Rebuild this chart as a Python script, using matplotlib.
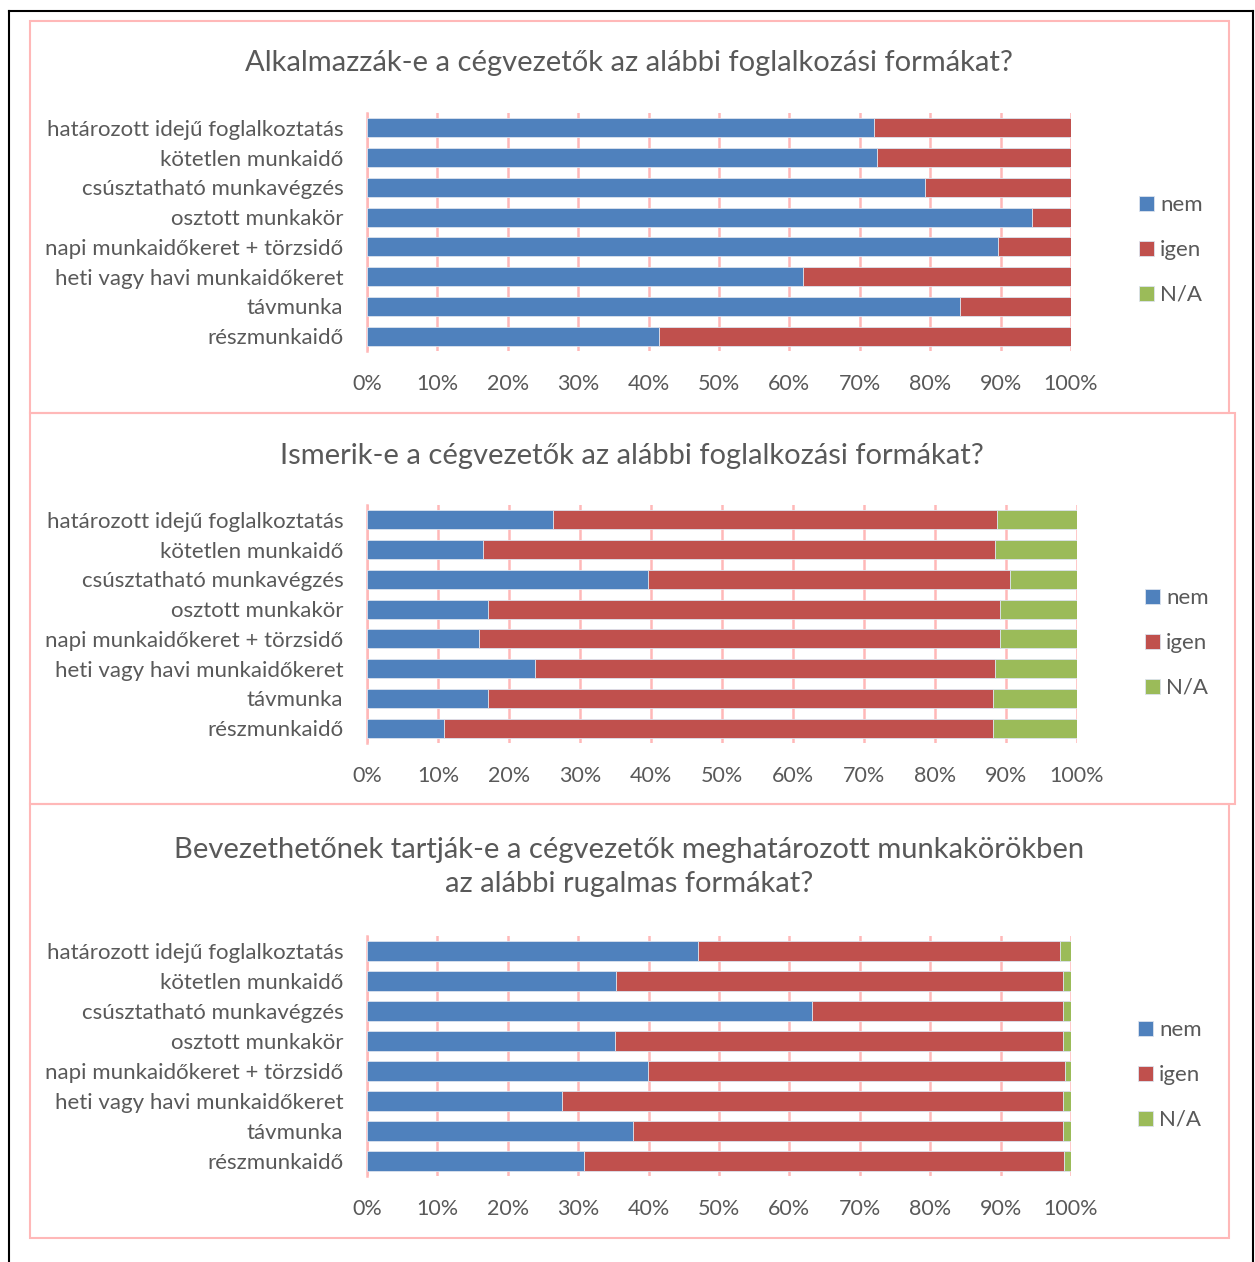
import numpy as np
import matplotlib
matplotlib.use("Agg")
import matplotlib.pyplot as plt
from matplotlib.patches import Rectangle

plt.rcParams['font.family'] = ['Lato', 'DejaVu Sans']

categories = ["határozott idejű foglalkoztatás", "kötetlen munkaidő",
              "csúsztatható munkavégzés", "osztott munkakör",
              "napi munkaidőkeret + törzsidő", "heti vagy havi munkaidőkeret",
              "távmunka", "részmunkaidő"]
series = ["nem", "igen", "N/A"]

# panel 1 - shares in percent
p1_nem = [72.0, 72.5, 79.2, 94.4, 89.6, 62.0, 84.3, 41.5]
p1_igen = [28.0, 27.5, 20.8, 5.6, 10.4, 38.0, 15.7, 58.5]
p1_na = [0, 0, 0, 0, 0, 0, 0, 0]

# panel 2
p2_nem = [26.2, 16.3, 39.6, 17.0, 15.8, 23.7, 17.0, 10.8]
p2_igen = [62.5, 72.1, 50.9, 72.1, 73.3, 64.7, 71.2, 77.3]
p2_na = [11.3, 11.6, 9.5, 10.9, 10.9, 11.6, 11.8, 11.9]

# panel 3
p3_nem = [47.0, 35.4, 63.2, 35.2, 39.9, 27.7, 37.8, 30.8]
p3_igen = [51.5, 63.4, 35.6, 63.7, 59.2, 71.2, 61.0, 68.2]
p3_na = [1.5, 1.2, 1.2, 1.1, 0.9, 1.1, 1.2, 1.0]

titles = ["Alkalmazzák-e a cégvezetők az alábbi foglalkozási formákat?",
          "Ismerik-e a cégvezetők az alábbi foglalkozási formákat?",
          "Bevezethetőnek tartják-e a cégvezetők meghatározott munkakörökben\naz alábbi rugalmas formákat?"]
xticks = [0, 10, 20, 30, 40, 50, 60, 70, 80, 90, 100]

colors = ["#4F81BD", "#C0504D", "#9BBB59"]
txt = "#595959"
pink = "#FFB8B8"

W, H = 1255, 1262
fig = plt.figure(figsize=(W / 100, H / 100), dpi=100)


def px_axes(x0, y0, x1, y1):
    return fig.add_axes([x0 / W, 1 - y1 / H, (x1 - x0) / W, (y1 - y0) / H])


# outer frame and panel frames
fig.add_artist(plt.Line2D([9 / W, 9 / W], [0, 1 - 11 / H], color="black", lw=1.5))
fig.add_artist(plt.Line2D([9 / W, 1253 / W], [1 - 11 / H, 1 - 11 / H], color="black", lw=1.5))
fig.add_artist(plt.Line2D([1253 / W, 1253 / W], [0, 1 - 11 / H], color="black", lw=1.5))
for (x0, y0, x1, y1) in [(30, 21, 1229, 413), (30, 413, 1235, 804), (30, 804, 1229, 1238)]:
    fig.add_artist(Rectangle((x0 / W, 1 - y1 / H), (x1 - x0) / W, (y1 - y0) / H,
                             transform=fig.transFigure, fill=False, ec=pink, lw=1.5))

panels = [
    (p1_nem, p1_igen, p1_na, (367, 113, 1071, 351), (629, 63), (1128, 184)),
    (p2_nem, p2_igen, p2_na, (367, 505, 1077, 743), (632, 456), (1134, 577)),
    (p3_nem, p3_igen, p3_na, (367, 936, 1071, 1176), (629, 867), (1127, 1009)),
]

y = np.arange(len(categories))
for i, (nem, igen, na, box, tpos, lpos) in enumerate(panels):
    ax = px_axes(*box)
    left = np.zeros(len(categories))
    for vals, lab, c in zip([nem, igen, na], series, colors):
        ax.barh(y, vals, left=left, height=0.64, color=c, label=lab,
                edgecolor="#DCE3EE", linewidth=0.6, zorder=3)
        left = left + np.array(vals)
    ax.set_ylim(len(categories) - 0.5, -0.5)
    ax.set_xlim(0, 100)
    ax.set_yticks(y)
    ax.set_yticklabels(categories, fontsize=16, color=txt)
    ax.set_xticks(xticks)
    ax.set_xticklabels([f"{t}%" for t in xticks], fontsize=15.5, color=txt)
    ax.tick_params(length=0)
    ax.tick_params(axis="y", pad=17)
    ax.tick_params(axis="x", pad=16.5)
    ax.xaxis.grid(True, color=pink, lw=1.8, zorder=0)
    for s in ["top", "right", "bottom"]:
        ax.spines[s].set_visible(False)
    ax.spines["left"].set_color(pink)
    ax.spines["left"].set_linewidth(1.8)
    ax.set_facecolor("none")
    fig.text(tpos[0] / W, 1 - tpos[1] / H, titles[i], ha="center", va="center",
             fontsize=21, color=txt, linespacing=1.35)
    ax.legend(loc="upper left", bbox_to_anchor=(lpos[0] / W, 1 - lpos[1] / H),
              bbox_transform=fig.transFigure, frameon=False, fontsize=16,
              labelcolor=txt, handlelength=0.65, handleheight=0.65,
              handletextpad=0.3, labelspacing=1.12, borderpad=0)

fig.savefig("out.png", dpi=100)
